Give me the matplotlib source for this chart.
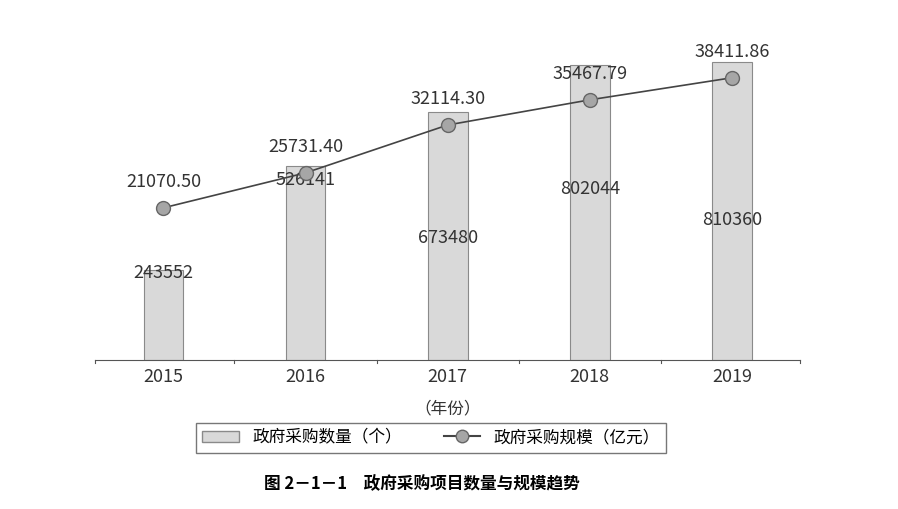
import matplotlib.pyplot as plt
from matplotlib.lines import Line2D
from matplotlib.patches import Patch

plt.rcParams['font.family'] = ['Noto Sans CJK SC', 'DejaVu Sans']

years = ['2015', '2016', '2017', '2018', '2019']
counts = [243552, 526141, 673480, 802044, 810360]
scale = [21070.50, 25731.40, 32114.30, 35467.79, 38411.86]
# where the count labels sit inside each bar (fraction of the bar height)
count_label_frac = [0.97, 0.93, 0.49, 0.58, 0.47]

fig = plt.figure(figsize=(8.98, 5.09), dpi=100)
ax = fig.add_axes([0.106, 0.293, 0.785, 0.609])
x = list(range(len(years)))
ax.bar(x, counts, width=0.28, color='#d9d9d9', edgecolor='#8a8a8a', linewidth=0.8)
ax.set_ylim(0, 842000)
ax.set_xlim(-0.48, 4.48)
for i, v in enumerate(counts):
    ax.text(i, v * count_label_frac[i], str(v), ha='center', va='center', fontsize=13, color='#333333')
for s in ['top', 'right', 'left']:
    ax.spines[s].set_visible(False)
ax.spines['bottom'].set_color('#555555')
ax.set_yticks([])
ax.set_xticks(x)
ax.set_xticklabels(years, fontsize=13, color='#333333')
ax.tick_params(axis='x', length=0, pad=6)
for b in [-0.48, 0.5, 1.5, 2.5, 3.5, 4.48]:
    ax.plot([b, b], [0, -8000], color='#555555', lw=0.8, clip_on=False)
ax.text(2, -0.13, '（年份）', transform=ax.get_xaxis_transform(), ha='center', va='top', fontsize=12, color='#333333')

ax2 = ax.twinx()
ax2.plot(x, scale, color='#444444', lw=1.2, marker='o', markersize=10,
         markerfacecolor='#a6a6a6', markeredgecolor='#666666')
ax2.set_ylim(800, 42130)
ax2.axis('off')
for i, v in enumerate(scale):
    ax2.text(i, v + 2300, f'{v:.2f}', ha='center', va='bottom', fontsize=13, color='#333333')

handles = [Patch(facecolor='#d9d9d9', edgecolor='#8a8a8a', label='政府采购数量（个）'),
           Line2D([], [], color='#444444', marker='o', markersize=9, markerfacecolor='#a6a6a6',
                  markeredgecolor='#666666', label='政府采购规模（亿元）')]
fig.legend(handles=handles, loc='center', bbox_to_anchor=(0.48, 0.14), ncol=2, fontsize=12,
           frameon=True, fancybox=False, edgecolor='#555555', handlelength=2.2, columnspacing=2.5)
fig.text(0.47, 0.04, '图 2－1－1　政府采购项目数量与规模趋势', ha='center', fontsize=12, fontweight='bold')
fig.savefig('out.png', dpi=100)
